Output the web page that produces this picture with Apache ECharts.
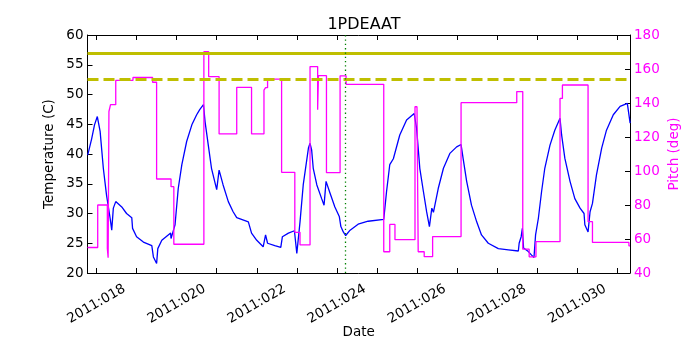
<!DOCTYPE html>
<html>
<head>
<meta charset="utf-8">
<script src="https://cdn.jsdelivr.net/npm/echarts@6/dist/echarts.min.js"></script>
<style>
  html, body { margin: 0; padding: 0; background: #fff; }
  #chart { width: 700px; height: 350px; }
</style>
</head>
<body>
<div id="chart"></div>
<script>
// x = day of year 2011 (fractional)
var tempDays = [
  17.78, 17.80, 17.88, 17.95, 18.02, 18.09, 18.17, 18.25, 18.34, 18.38,
  18.42, 18.48, 18.63, 18.75, 18.88, 18.90, 19.00, 19.17, 19.38, 19.42,
  19.50, 19.53, 19.63, 19.79, 19.85, 19.86, 19.90, 19.96, 20.04, 20.13,
  20.25, 20.38, 20.50, 20.58, 20.67, 20.71, 20.79, 20.87, 21.00, 21.06,
  21.16, 21.29, 21.41, 21.50, 21.79, 21.87, 22.00, 22.16, 22.22, 22.27,
  22.45, 22.60, 22.64, 22.79, 22.94, 23.00, 23.08, 23.16, 23.29, 23.33,
  23.37, 23.41, 23.50, 23.62, 23.68, 23.73, 23.83, 23.95, 24.06, 24.10,
  24.16, 24.22, 24.33, 24.53, 24.78, 25.17, 25.24, 25.32, 25.41, 25.45,
  25.57, 25.74, 25.93, 25.96, 25.99, 26.07, 26.16, 26.24, 26.31, 26.37,
  26.41, 26.53, 26.66, 26.82, 26.99, 27.10, 27.15, 27.24, 27.36, 27.49,
  27.61, 27.78, 28.03, 28.28, 28.53, 28.55, 28.60, 28.63, 28.66, 28.78,
  28.86, 28.92, 28.96, 29.03, 29.11, 29.19, 29.32, 29.44, 29.57, 29.61,
  29.69, 29.82, 29.94, 30.07, 30.17, 30.19, 30.27, 30.32, 30.38, 30.48,
  30.61, 30.73, 30.90, 31.07, 31.25, 31.32
];
var tempVals = [
  39.8, 40.1, 42.6, 44.9, 46.3, 43.8, 37.6, 33.1, 29.2, 27.2,
  30.9, 32.0, 31.1, 30.0, 29.3, 27.5, 26.1, 25.2, 24.6, 22.7,
  21.6, 24.1, 25.5, 26.4, 26.7, 25.8, 26.7, 28.1, 34.2, 38.2,
  42.1, 44.9, 46.6, 47.5, 48.3, 45.4, 41.5, 37.6, 34.0, 37.3,
  34.8, 32.0, 30.3, 29.3, 28.6, 26.7, 25.5, 24.4, 26.4, 25.0,
  24.6, 24.3, 26.1, 26.7, 27.1, 23.3, 28.6, 34.8, 41.0, 41.8,
  40.7, 37.6, 34.8, 32.5, 31.4, 35.4, 33.4, 31.1, 29.5, 27.8,
  26.9, 26.3, 27.2, 28.2, 28.7, 29.0, 33.7, 38.2, 39.2, 39.4,
  43.2, 45.7, 46.8, 46.9, 44.3, 37.6, 33.7, 30.3, 27.8, 30.9,
  30.2, 34.2, 37.6, 40.1, 41.2, 41.6, 39.3, 35.4, 31.4, 28.6,
  26.4, 25.0, 24.1, 23.9, 23.7, 25.0, 26.1, 27.5, 24.2, 23.6,
  23.0, 22.6, 26.4, 29.2, 33.7, 37.6, 41.5, 44.0, 46.0, 43.2,
  39.3, 35.4, 32.5, 30.9, 30.0, 28.1, 26.9, 30.3, 31.7, 36.5,
  41.0, 44.0, 46.6, 48.0, 48.5, 45.2
];
// pitch holds each value until the next day in the list
var pitchDays = [
  17.775, 18.03, 18.27, 18.29, 18.31, 18.35, 18.48, 18.91, 19.40, 19.50,
  19.86, 19.93, 20.68, 20.80, 21.06, 21.50, 21.87, 22.18, 22.22, 22.27,
  22.62, 22.95, 23.08, 23.33, 23.52, 23.54, 23.74, 24.08, 24.23, 25.17,
  25.32, 25.45, 25.95, 26.00, 26.03, 26.18, 26.39, 27.10, 28.49, 28.64,
  28.80, 28.97, 29.57, 29.63, 30.27, 30.38, 31.29, 31.317
];
var pitchVals = [
  55, 80, 54.5, 49, 135, 139, 153.3, 155, 152.2, 95.3,
  90.8, 56.9, 170.2, 155.5, 121.8, 149.2, 121.8, 147.6, 149, 154.1,
  99.2, 63.9, 56.5, 161.4, 136, 156.1, 99, 156, 151, 52.5,
  68.6, 59.6, 137.8, 137, 52.5, 49.6, 61.4, 140.2, 146.7, 54,
  49.5, 58.4, 142.7, 150.6, 70.2, 58, 56, 56
];
var yellowLimit = 57;
var planLimit = 52.5;
var nowDay = 24.22;
var xTickDays = [18, 19, 20, 21, 22, 23, 24, 25, 26, 27, 28, 29, 30, 31];
var xLabelDays = [18, 20, 22, 24, 26, 28, 30];

var font = "DejaVu Sans";

function dayLabel(v) {
  return "2011:" + String(Math.round(v)).padStart(3, "0");
}

var myChart = echarts.init(document.getElementById("chart"));
var option = {
  animation: false,
  backgroundColor: "#fff",
  textStyle: { fontFamily: font },
  title: {
    text: "1PDEAAT",
    left: 359,
    top: 12,
    textAlign: "center",
    textStyle: { fontFamily: font, fontSize: 16, fontWeight: "normal", color: "#000" }
  },
  grid: { left: 87.5, right: 70, top: 35, bottom: 77 },
  xAxis: [
    {
      type: "value",
      min: 17.775,
      max: 31.317,
      position: "bottom",
      name: "Date",
      nameLocation: "middle",
      nameGap: 52,
      nameMoveOverlap: false,
      nameTextStyle: { fontFamily: font, fontSize: 13.5, color: "#000" },
      axisLine: { show: true, lineStyle: { color: "#000", width: 1 } },
      axisTick: { show: true, inside: true, length: 5, customValues: xTickDays, lineStyle: { color: "#000" } },
      axisLabel: {
        customValues: xLabelDays,
        formatter: dayLabel,
        rotate: 30,
        align: "center",
        verticalAlign: "middle",
        margin: 31,
        fontFamily: font,
        fontSize: 13.5,
        color: "#000"
      },
      splitLine: { show: false }
    },
    {
      type: "value",
      min: 17.775,
      max: 31.317,
      position: "top",
      axisLine: { show: true, lineStyle: { color: "#000", width: 1 } },
      axisTick: { show: true, inside: true, length: 5, customValues: xTickDays, lineStyle: { color: "#000" } },
      axisLabel: { show: false },
      splitLine: { show: false }
    }
  ],
  yAxis: [
    {
      type: "value",
      min: 20,
      max: 60,
      interval: 5,
      position: "left",
      name: "Temperature (C)",
      nameLocation: "middle",
      nameRotate: 90,
      nameGap: 31,
      nameMoveOverlap: false,
      nameTextStyle: { fontFamily: font, fontSize: 13.5, color: "#000" },
      axisLine: { show: true, lineStyle: { color: "#000", width: 1 } },
      axisTick: { show: true, inside: true, length: 5, lineStyle: { color: "#000" } },
      axisLabel: { fontFamily: font, fontSize: 13.5, color: "#000", margin: 4 },
      splitLine: { show: false }
    },
    {
      type: "value",
      min: 40,
      max: 180,
      interval: 20,
      position: "right",
      name: "Pitch (deg)",
      nameLocation: "middle",
      nameRotate: 90,
      nameGap: 37,
      nameMoveOverlap: false,
      nameTextStyle: { fontFamily: font, fontSize: 13.5, color: "#ff00ff" },
      axisLine: { show: true, lineStyle: { color: "#000", width: 1 } },
      axisTick: { show: true, inside: true, length: 5, lineStyle: { color: "#000" } },
      axisLabel: { fontFamily: font, fontSize: 13.5, color: "#ff00ff", margin: 4 },
      splitLine: { show: false }
    }
  ],
  series: [
    {
      name: "temp",
      type: "line",
      xAxisIndex: 0,
      yAxisIndex: 0,
      showSymbol: false,
      symbol: "none",
      z: 3,
      lineStyle: { color: "#0000ff", width: 1.3 },
      data: tempDays.map(function (d, i) { return [d, tempVals[i]]; }),
      markLine: {
        silent: true,
        symbol: "none",
        label: { show: false },
        data: [
          { yAxis: yellowLimit, lineStyle: { color: "#bfbf00", width: 3, type: "solid" } },
          { yAxis: planLimit, lineStyle: { color: "#bfbf00", width: 3, type: [11, 5] } },
          { xAxis: nowDay, lineStyle: { color: "#008000", width: 1.3, type: [1.3, 3] } }
        ]
      }
    },
    {
      name: "pitch",
      type: "line",
      xAxisIndex: 0,
      yAxisIndex: 1,
      step: "end",
      showSymbol: false,
      symbol: "none",
      z: 4,
      lineStyle: { color: "#ff00ff", width: 1.3 },
      data: pitchDays.map(function (d, i) { return [d, pitchVals[i]]; })
    }
  ]
};
myChart.setOption(option);
window.addEventListener("resize", function () {
  myChart.resize();
});
</script>
</body>
</html>
